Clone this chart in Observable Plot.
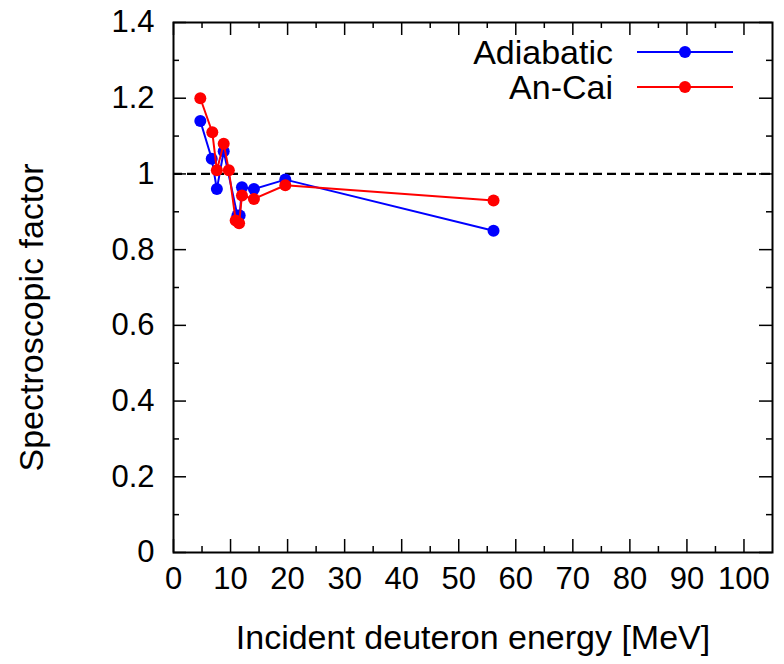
<!DOCTYPE html>
<html>
<head>
<meta charset="utf-8">
<script src="https://cdn.jsdelivr.net/npm/d3@7"></script>
<script src="https://cdn.jsdelivr.net/npm/@observablehq/plot@0.6"></script>
<style>
  html, body { margin: 0; padding: 0; background: #fff; }
  svg { display: block; }
</style>
</head>
<body>
<div id="chart"></div>
<script>
// Data
const adiabaticEnergy = [4.7, 6.7, 7.6, 8.8, 11.2, 11.6, 12.0, 14.1, 19.6, 56.1];
const adiabaticFactor = [1.14, 1.04, 0.96, 1.06, 0.89, 0.89, 0.965, 0.96, 0.985, 0.85];
const anCaiEnergy = [4.7, 6.8, 7.6, 8.8, 9.7, 10.9, 11.5, 12.0, 14.1, 19.6, 56.1];
const anCaiFactor = [1.2, 1.11, 1.01, 1.08, 1.01, 0.877, 0.87, 0.943, 0.934, 0.97, 0.93];

const xMajor = [0, 10, 20, 30, 40, 50, 60, 70, 80, 90, 100];
const xMinor = [5, 15, 25, 35, 45, 55, 65, 75, 85, 95];
const yMajor = [0, 0.2, 0.4, 0.6, 0.8, 1, 1.2, 1.4];
const yMinor = [0.1, 0.3, 0.5, 0.7, 0.9, 1.1, 1.3];
const seriesNames = ["Adiabatic", "An-Cai"];
const seriesColors = ["#0000ff", "#ff0000"];
const referenceLine = [1];
const xTitle = "Incident deuteron energy [MeV]";
const yTitle = "Spectroscopic factor";

const adiabatic = adiabaticEnergy.map((x, i) => ({x, y: adiabaticFactor[i]}));
const anCai = anCaiEnergy.map((x, i) => ({x, y: anCaiFactor[i]}));

const W = 784, H = 664;
const mL = 173, mR = 12, mT = 22, mB = 112;
const fw = W - mL - mR, fh = H - mT - mB;
const majorLen = 13, minorLen = 6;
const font = "'Liberation Sans', Arial, Helvetica, sans-serif";

const tickMarks = (vals, len) => [
  Plot.ruleX(vals, {x: d => d, insetTop: fh - len, stroke: "black", strokeWidth: 1.5}),
  Plot.ruleX(vals, {x: d => d, insetBottom: fh - len, stroke: "black", strokeWidth: 1.5}),
];
const tickMarksY = (vals, len) => [
  Plot.ruleY(vals, {y: d => d, insetRight: fw - len, stroke: "black", strokeWidth: 1.5}),
  Plot.ruleY(vals, {y: d => d, insetLeft: fw - len, stroke: "black", strokeWidth: 1.5}),
];

const svg = Plot.plot({
  width: W, height: H,
  marginLeft: mL, marginRight: mR, marginTop: mT, marginBottom: mB,
  style: {fontFamily: font, background: "white", color: "black"},
  x: {domain: [0, 105]},
  y: {domain: [0, 1.4]},
  marks: [
    Plot.ruleY(referenceLine, {stroke: "black", strokeWidth: 2.2, strokeDasharray: "9,5"}),
    Plot.line(adiabatic, {x: "x", y: "y", stroke: seriesColors[0], strokeWidth: 2}),
    Plot.dot(adiabatic, {x: "x", y: "y", r: 6, fill: seriesColors[0], stroke: "none"}),
    Plot.line(anCai, {x: "x", y: "y", stroke: seriesColors[1], strokeWidth: 2}),
    Plot.dot(anCai, {x: "x", y: "y", r: 6, fill: seriesColors[1], stroke: "none"}),
    ...tickMarks(xMajor, majorLen),
    ...tickMarks(xMinor, minorLen),
    ...tickMarksY(yMajor, majorLen),
    ...tickMarksY(yMinor, minorLen),
    Plot.frame({stroke: "black", strokeWidth: 2}),
    Plot.axisX({ticks: xMajor, tickSize: 0, tickPadding: 14, fontSize: 31, label: null, tickFormat: d => String(d)}),
    Plot.axisY({ticks: yMajor, tickSize: 0, tickPadding: 19, fontSize: 31, label: null, tickFormat: d => String(d)}),
    Plot.text([xTitle], {text: d => d, frameAnchor: "bottom", dy: 86, fontSize: 34, lineAnchor: "middle", textAnchor: "middle"}),
    Plot.text([yTitle], {text: d => d, frameAnchor: "left", rotate: -90, dx: -141, dy: 30, fontSize: 34, lineAnchor: "middle", textAnchor: "middle"})
  ]
});

// Legend (inside the frame, top right)
const g = d3.select(svg).append("g").attr("font-family", font).attr("font-size", 34);
const legendRows = [52, 87];
seriesNames.forEach((name, i) => {
  const y = legendRows[i];
  g.append("text").attr("x", 613).attr("y", y).attr("dy", "0.35em")
    .attr("text-anchor", "end").attr("fill", "black").text(name);
  g.append("line").attr("x1", 637).attr("x2", 733).attr("y1", y).attr("y2", y)
    .attr("stroke", seriesColors[i]).attr("stroke-width", 2);
  g.append("circle").attr("cx", 685).attr("cy", y).attr("r", 6).attr("fill", seriesColors[i]);
});

document.getElementById("chart").appendChild(svg);
</script>
</body>
</html>
